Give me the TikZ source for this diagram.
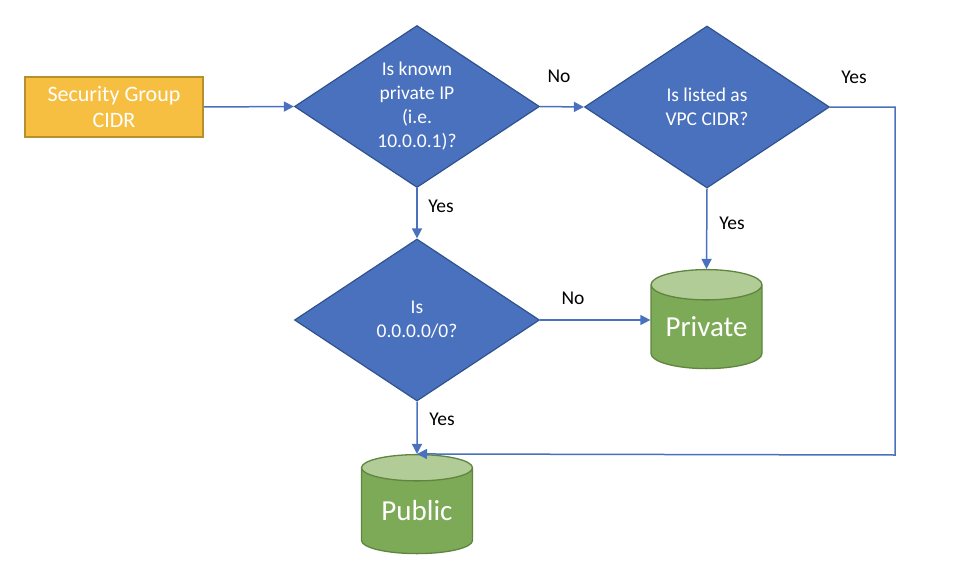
\documentclass[tikz,border=0pt]{standalone}
\usepackage{fontspec}
\setmainfont{Carlito}
\usetikzlibrary{shapes.geometric,arrows.meta}
\definecolor{flowblue}{HTML}{4A71BD}
\definecolor{flowedge}{HTML}{2F528F}
\definecolor{sgfill}{HTML}{F6BF42}
\definecolor{sgedge}{HTML}{B88F2D}
\definecolor{dbfill}{HTML}{7DAA56}
\definecolor{dbtop}{HTML}{B2CC98}
\definecolor{dbedge}{HTML}{5F8540}
\tikzset{
  decision/.style={diamond,draw=flowedge,fill=flowblue,line width=1.2pt,text=white,
    aspect=1.5,inner sep=0pt,minimum width=245pt,minimum height=162pt,
    align=center,font=\fontsize{19.5}{24}\selectfont},
  database/.style={cylinder,shape border rotate=90,draw=dbedge,line width=1.3pt,text=white,
    cylinder uses custom fill,cylinder body fill=dbfill,cylinder end fill=dbtop,
    aspect=0.37,inner sep=0pt,minimum width=111pt,minimum height=99pt,
    font=\fontsize{29}{34}\selectfont},
  flow/.style={draw=flowblue,line width=1.5pt,-{Triangle[length=10pt,width=10pt]}},
  answer/.style={font=\fontsize{19.5}{24}\selectfont,text=black},
}
\begin{document}
\begin{tikzpicture}[x=1pt,y=-1pt]
\useasboundingbox (0,0) rectangle (970,570);
\node [draw=sgedge,fill=sgfill,line width=1.5pt,text=white,align=center,inner sep=0pt,
  minimum width=178pt,minimum height=60pt,font=\fontsize{22}{26}\selectfont]
  (source) at (114,107) {Security Group\\CIDR};
\node [decision] (known) at (417,106.5) {Is known\\private IP\\(i.e.\\10.0.0.1)?};
\node [decision] (listed) at (707,107) {Is listed as\\VPC CIDR?};
\node [decision] (anyaddr) at (417,320) {Is\\0.0.0.0/0?};
\node [database] (private) at (706.5,327) {Private};
\node [database] (public) at (417,511) {Public};
\coordinate (elbow) at (895,455);
% connectors
\draw [flow] (source.east)--(known.west);
\draw [flow] (known.east)--(listed.west);
\draw [flow] (known.south)--(anyaddr.north);
\draw [flow] (listed.south)--(private.north);
\draw [flow] (anyaddr.east)--(anyaddr.east-|private.west);
\draw [flow] (anyaddr.south)--(public.north);
\draw [flow] (listed.east)-|(elbow)--(public.north);
% labels
\node [answer] (noa) at (559,76) {No};
\node [answer] (yesa) at (854,77) {Yes};
\node [answer] (yesb) at (441,206) {Yes};
\node [answer] (yesc) at (732,223) {Yes};
\node [answer] (nob) at (573,298) {No};
\node [answer] (yesd) at (442,419) {Yes};
\end{tikzpicture}
\end{document}
